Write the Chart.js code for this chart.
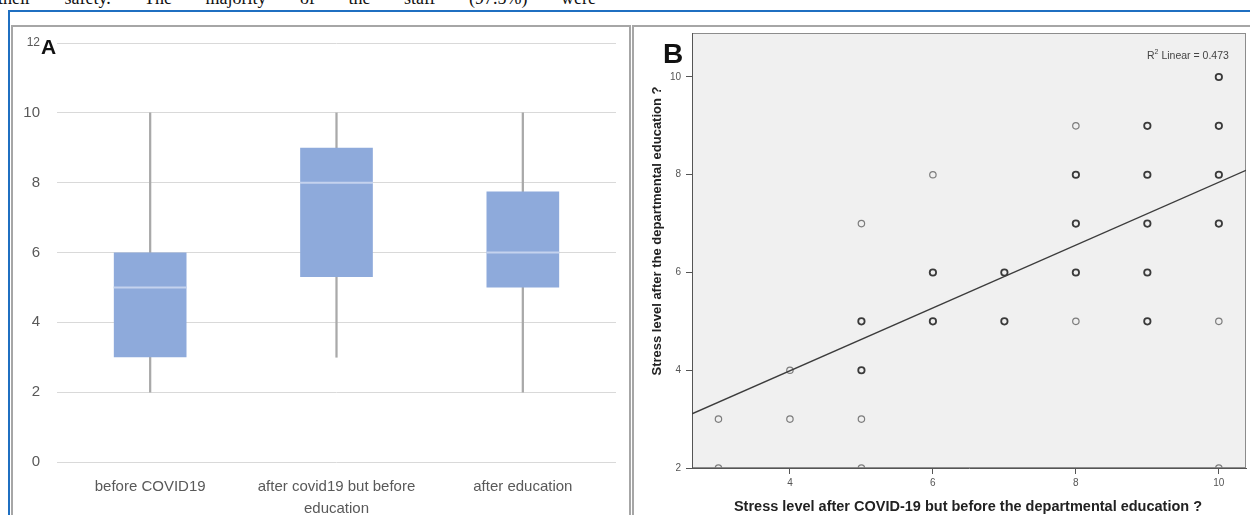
<!DOCTYPE html>
<html>
<head>
<meta charset="utf-8">
<script src="https://cdn.jsdelivr.net/npm/chart.js@4.4.1/dist/chart.umd.min.js"></script>
<style>
  body { margin: 0; width: 1250px; height: 515px; overflow: hidden; background: #fff; position: relative; font-family: "Liberation Sans", Arial, sans-serif; }
  .abs { position: absolute; }
  #topText { left: -2px; top: -11px; font: 18px/18px "Liberation Serif", "Times New Roman", serif; white-space: nowrap; word-spacing: 29px; color: #111; }
  #blueFrame { left: 8px; top: 10px; width: 1260px; height: 600px; border-top: 2px solid #1f6fc1; border-left: 2px solid #1f6fc1; }
  #frameA { left: 11px; top: 25px; width: 616px; height: 600px; border: 2px solid #a6a6a6; }
  #frameB { left: 632px; top: 25px; width: 640px; height: 600px; border: 2px solid #a6a6a6; }
  #wrapA { left: 12px; top: 26px; width: 616px; height: 489px; }
  #wrapB { left: 632px; top: 26px; width: 618px; height: 489px; }
  .panelTag { font-weight: bold; line-height: 1; color: #111; }
  #tagA { left: 41px; top: 36px; font-size: 21px; }
  #tagB { left: 663px; top: 40px; font-size: 28px; }
  #yTitleB { left: 656px; top: 231px; transform: translate(-50%, -50%) rotate(-90deg); font: bold 13px "Liberation Sans", Arial, sans-serif; white-space: nowrap; color: #222; }
  #xTitleB { left: 968px; top: 506px; transform: translate(-50%, -50%); font: bold 14.5px "Liberation Sans", Arial, sans-serif; white-space: nowrap; color: #222; }
  #r2 { left: 1147px; top: 48px; font: 10.5px "Liberation Sans", Arial, sans-serif; color: #444; white-space: nowrap; }
  #r2 sup { font-size: 7px; }
</style>
</head>
<body>
<div class="abs" id="topText">their safety. The majority of the staff (97.5%) were</div>
<div class="abs" id="blueFrame"></div>
<div class="abs" id="frameA"></div>
<div class="abs" id="frameB"></div>
<div class="abs" id="wrapA"><canvas id="boxChart"></canvas></div>
<div class="abs" id="wrapB"><canvas id="scatterChart"></canvas></div>
<div class="abs panelTag" id="tagA">A</div>
<div class="abs panelTag" id="tagB">B</div>
<div class="abs" id="yTitleB">Stress level after the departmental education ?</div>
<div class="abs" id="xTitleB">Stress level after COVID-19 but before the departmental education ?</div>
<div class="abs" id="r2">R<sup>2</sup> Linear = 0.473</div>

<script>
// --- Panel A: box plot values ---
const categories = ["before COVID19", ["after covid19 but before", "education"], "after education"];
const whiskerLow = [2, 3, 2];
const whiskerHigh = [10, 10, 10];
const q1 = [3, 5.3, 5];
const q3 = [6, 9, 7.75];
const medians = [5, 8, 6];
const yTicksA = [0, 2, 4, 6, 8, 10, 12];

// --- Panel B: scatter points (darker = several overlapping answers) ---
const darkX = [10, 9, 10, 8, 9, 10, 8, 9, 10, 6, 7, 8, 9, 5, 6, 7, 9, 5];
const darkY = [10, 9, 9, 8, 8, 8, 7, 7, 7, 6, 6, 6, 6, 5, 5, 5, 5, 4];
const lightX = [8, 6, 5, 8, 10, 4, 3, 4, 5, 3, 5, 10];
const lightY = [9, 8, 7, 5, 5, 4, 3, 3, 3, 2, 2, 2];
const fitX = [2.63, 10.38];
const fitY = [3.11, 8.09];
const xTicksB = [4, 6, 8, 10];
const yTicksB = [2, 4, 6, 8, 10];

const excelGray = "#595959";

// fixed axis width, and no extra room above/below for the end labels
function fixedWidth(w) {
  return (s) => {
    s.width = w;
    s.paddingTop = 0;
    s.paddingBottom = 0;
  };
}

// box plot (Excel style)
new Chart(document.getElementById("boxChart"), {
  type: "bar",
  data: {
    labels: categories,
    datasets: [
      {
        type: "line",
        data: medians,
        showLine: false,
        pointStyle: "line",
        pointRadius: 36.5,
        pointHoverRadius: 36.5,
        pointBorderWidth: 2,
        pointBorderColor: "#c4d2ee",
        order: 0,
      },
      {
        data: q1.map((v, i) => [v, q3[i]]),
        backgroundColor: "#8eaadb",
        borderWidth: 0,
        grouped: false,
        barPercentage: 0.39,
        categoryPercentage: 1,
        order: 1,
      },
      {
        data: whiskerLow.map((v, i) => [v, whiskerHigh[i]]),
        backgroundColor: "#a9a9a9",
        borderWidth: 0,
        grouped: false,
        barThickness: 1.6,
        order: 2,
      },
    ],
  },
  options: {
    responsive: true,
    maintainAspectRatio: false,
    animation: false,
    layout: { autoPadding: false, padding: { top: 17, right: 12, left: 0, bottom: 0 } },
    plugins: { legend: { display: false }, tooltip: { enabled: false } },
    scales: {
      x: {
        grid: { display: false },
        border: { display: false },
        ticks: { color: excelGray, padding: 6, font: { size: 15, family: "'Liberation Sans', Arial", lineHeight: 1.45 } },
        afterFit: (s) => { s.height = 53; },
      },
      y: {
        min: 0,
        max: 12,
        afterBuildTicks: (s) => { s.ticks = yTicksA.map((v) => ({ value: v })); },
        grid: { color: "#d9d9d9", drawTicks: false },
        border: { display: false },
        ticks: {
          color: excelGray,
          padding: 17,
          // the top label is squeezed smaller next to the "A" tag
          font: (ctx) => ({ size: ctx.tick && ctx.tick.value === 12 ? 12 : 15, family: "'Liberation Sans', Arial" }),
        },
        afterFit: fixedWidth(45),
      },
    },
  },
});

// grey plot background + frame, SPSS style
const plotFrame = {
  id: "plotFrame",
  beforeDraw(chart) {
    const { ctx, chartArea: a } = chart;
    ctx.save();
    ctx.fillStyle = "#f0f0f0";
    ctx.fillRect(a.left, a.top, a.width, a.height);
    ctx.strokeStyle = "#8c8c8c";
    ctx.lineWidth = 1;
    ctx.strokeRect(a.left + 0.5, a.top + 0.5, a.width - 1, a.height - 1);
    ctx.restore();
  },
};

const spssTicks = { color: "#555", font: { size: 10, family: "'Liberation Sans', Arial" } };

new Chart(document.getElementById("scatterChart"), {
  type: "scatter",
  data: {
    datasets: [
      {
        type: "line",
        data: fitX.map((x, i) => ({ x, y: fitY[i] })),
        borderColor: "#3c3c3c",
        borderWidth: 1.4,
        pointRadius: 0,
        fill: false,
      },
      {
        data: darkX.map((x, i) => ({ x, y: darkY[i] })),
        pointRadius: 3.2,
        pointBorderWidth: 1.8,
        borderColor: "#3a3a3a",
        backgroundColor: "rgba(0,0,0,0)",
        clip: 0,
      },
      {
        data: lightX.map((x, i) => ({ x, y: lightY[i] })),
        pointRadius: 3.2,
        pointBorderWidth: 1.2,
        borderColor: "#7c7c7c",
        backgroundColor: "rgba(0,0,0,0)",
        clip: 0,
      },
    ],
  },
  options: {
    responsive: true,
    maintainAspectRatio: false,
    animation: false,
    layout: { autoPadding: false, padding: { top: 7, right: 4, left: 0, bottom: 0 } },
    plugins: { legend: { display: false }, tooltip: { enabled: false } },
    scales: {
      x: {
        type: "linear",
        min: 2.63,
        max: 10.38,
        afterBuildTicks: (s) => { s.ticks = xTicksB.map((v) => ({ value: v })); },
        grid: { drawOnChartArea: false, tickLength: 6, color: "#555" },
        border: { color: "#555" },
        ticks: { ...spssTicks, padding: 3 },
        afterFit: (s) => { s.height = 47; },
      },
      y: {
        min: 2,
        max: 10.9,
        afterBuildTicks: (s) => { s.ticks = yTicksB.map((v) => ({ value: v })); },
        grid: { drawOnChartArea: false, tickLength: 6, color: "#555" },
        border: { color: "#555" },
        ticks: { ...spssTicks, padding: 5 },
        afterFit: fixedWidth(60),
      },
    },
  },
  plugins: [plotFrame],
});
</script>
</body>
</html>
